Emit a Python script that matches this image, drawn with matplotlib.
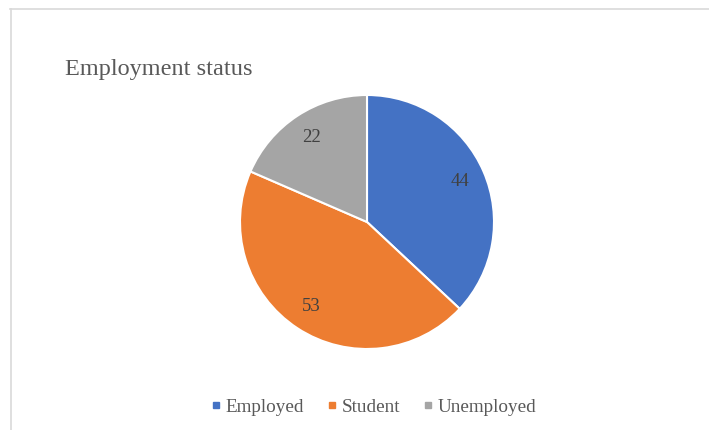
import matplotlib
matplotlib.use("Agg")
import matplotlib.pyplot as plt
from matplotlib.lines import Line2D

categories = ["Employed", "Student", "Unemployed"]
values = [44, 53, 22]
colors = ["#4472C4", "#ED7D31", "#A5A5A5"]
title = "Employment status"

plt.rcParams['font.family'] = ['Liberation Serif', 'DejaVu Serif']

W, H = 709, 430
fig = plt.figure(figsize=(W / 100, H / 100), dpi=100)

# chart frame (top and left border visible)
fig.add_artist(Line2D([10 / W, 1], [1 - 8.5 / H, 1 - 8.5 / H], color="#d9d9d9", lw=1.2))
fig.add_artist(Line2D([10.5 / W, 10.5 / W], [0, 1 - 8.5 / H], color="#d9d9d9", lw=1.2))

cx, cy, r = 367, 222, 127
ax = fig.add_axes([(cx - r) / W, (H - cy - r) / H, 2 * r / W, 2 * r / H])
wedges, texts, autotexts = ax.pie(
    values, colors=colors, startangle=90, counterclock=False,
    autopct=lambda p: f"{round(p * sum(values) / 100):.0f}", pctdistance=0.8,
    wedgeprops=dict(edgecolor="white", linewidth=1.5),
    textprops=dict(color="#404040", fontsize=13.5))
ax.set_xlim(-1, 1)
ax.set_ylim(-1, 1)
ax.set_aspect("equal")

fig.text(65 / W, 1 - 69 / H, title, fontsize=17.5, color="#595959", va="center", ha="left")

handles = [Line2D([], [], marker="s", linestyle="none", markersize=5,
                  markerfacecolor=c, markeredgecolor=c) for c in colors]
fig.legend(handles, categories, loc="center", bbox_to_anchor=(372 / W, 1 - 407 / H),
           ncol=3, frameon=False, fontsize=13.8, labelcolor="#595959",
           handletextpad=0.05, columnspacing=1.0, handlelength=0.9)

fig.savefig("out.png", dpi=100, facecolor="white")
